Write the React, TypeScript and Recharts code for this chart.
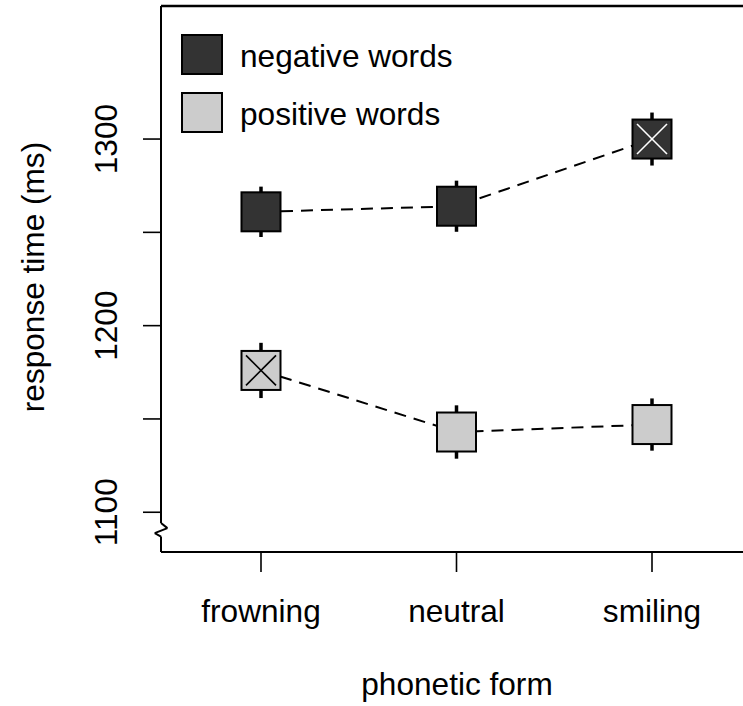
import React from 'react';
import { ComposedChart, Line, XAxis, YAxis, ErrorBar, ReferenceLine, Customized } from 'recharts';

// ---- data ----
const categories = ['frowning', 'neutral', 'smiling'];
const categoryPositions = [1, 2, 3];
const negativeMeans = [1261, 1264, 1300];
const negativeErrors = [13.5, 13.7, 14.2];
const positiveMeans = [1176, 1143, 1147];
const positiveErrors = [14.8, 14.3, 14.0];
const negativeCrossed = [false, false, true];
const positiveCrossed = [true, false, false];
const yTicks = [1100, 1150, 1200, 1250, 1300];
const yTickLabels = [1100, 1200, 1300];
const seriesNames = ['negative words', 'positive words'];
const xTitle = 'phonetic form';
const yTitle = 'response time (ms)';

const data = categories.map((c, i) => ({
  x: categoryPositions[i],
  category: c,
  neg: negativeMeans[i],
  negErr: negativeErrors[i],
  negX: negativeCrossed[i],
  pos: positiveMeans[i],
  posErr: positiveErrors[i],
  posX: positiveCrossed[i],
}));

const X_MIN = 0.4885;
const X_MAX = 3.5115;
const Y_MIN = 1078.7;
const Y_MAX = 1371.3;

const FONT = '"Liberation Sans", Arial, Helvetica, sans-serif';
const FS = 31.6;
const NEG_FILL = '#333333';
const POS_FILL = '#cccccc';

const makeDot = (fill: string, crossKey: string, crossColor: string) => (props: any) => {
  const { cx, cy, payload, index } = props;
  const h = 19.5;
  const c = 15;
  return (
    <g key={`dot-${crossKey}-${index}`}>
      <rect x={cx - h} y={cy - h} width={2 * h} height={2 * h} fill={fill} stroke="#000" strokeWidth={2} />
      {payload[crossKey] ? (
        <g stroke={crossColor} strokeWidth={1.6}>
          <line x1={cx - c} y1={cy - c} x2={cx + c} y2={cy + c} />
          <line x1={cx - c} y1={cy + c} x2={cx + c} y2={cy - c} />
        </g>
      ) : null}
    </g>
  );
};

const XTick = (props: any) => {
  const { x, y, payload } = props;
  const label = categories[categoryPositions.indexOf(payload.value)];
  return (
    <text x={x} y={y + 48} textAnchor="middle" fontFamily={FONT} fontSize={FS} fill="#000">
      {label}
    </text>
  );
};

const YTick = (props: any) => {
  const { x, y, payload } = props;
  if (!yTickLabels.includes(payload.value)) return <g />;
  const bx = x - 24;
  return (
    <text x={bx} y={y} transform={`rotate(-90, ${bx}, ${y})`} textAnchor="middle" fontFamily={FONT} fontSize={FS} fill="#000">
      {payload.value}
    </text>
  );
};

const Decorations = () => (
  <g fontFamily={FONT} fontSize={FS} fill="#000">
    <text x={457} y={695} textAnchor="middle">{xTitle}</text>
    <text x={44} y={277} transform="rotate(-90, 44, 277)" textAnchor="middle">{yTitle}</text>
    <rect x={182} y={35} width={40} height={39} fill={NEG_FILL} stroke="#000" strokeWidth={2} />
    <text x={240} y={67}>{seriesNames[0]}</text>
    <rect x={182} y={93} width={40} height={39} fill={POS_FILL} stroke="#000" strokeWidth={2} />
    <text x={240} y={125}>{seriesNames[1]}</text>
  </g>
);

// left axis with a zigzag break (axis units)
const dxR = 0.0328;
const dxL = -0.0321;
const leftAxisSegments = [
  [{ x: X_MIN, y: Y_MAX }, { x: X_MIN, y: 1094.2 }],
  [{ x: X_MIN, y: 1094.2 }, { x: X_MIN + dxR, y: 1091.5 }],
  [{ x: X_MIN + dxR, y: 1091.5 }, { x: X_MIN + dxL, y: 1088.8 }],
  [{ x: X_MIN + dxL, y: 1088.8 }, { x: X_MIN, y: 1087.0 }],
  [{ x: X_MIN, y: 1087.0 }, { x: X_MIN, y: Y_MIN }],
];

export default function App() {
  return (
    <div style={{ position: 'absolute', left: 0, top: 0, width: 743, height: 706, overflow: 'hidden', background: '#fff' }}>
      <ComposedChart width={760} height={706} data={data} margin={{ top: 6, right: 8, bottom: 0, left: 0 }}>
        <XAxis
          type="number"
          dataKey="x"
          domain={[X_MIN, X_MAX]}
          allowDataOverflow
          ticks={categoryPositions}
          tick={<XTick />}
          tickSize={20}
          tickLine={{ stroke: '#000', strokeWidth: 1.6 }}
          axisLine={{ stroke: '#000', strokeWidth: 2 }}
          height={154}
        />
        <YAxis
          type="number"
          domain={[Y_MIN, Y_MAX]}
          allowDataOverflow
          ticks={yTicks}
          tick={<YTick />}
          tickSize={18}
          tickLine={{ stroke: '#000', strokeWidth: 1.6 }}
          axisLine={false}
          width={161}
        />
        <ReferenceLine y={Y_MAX} stroke="#000" strokeWidth={2.4} ifOverflow="visible" />
        {leftAxisSegments.map((seg, i) => (
          <ReferenceLine key={`la-${i}`} segment={seg} stroke="#000" strokeWidth={2} ifOverflow="visible" />
        ))}
        <Line
          dataKey="neg"
          type="linear"
          stroke="#000"
          strokeWidth={2}
          strokeDasharray="12 8"
          dot={makeDot(NEG_FILL, 'negX', '#ffffff')}
          activeDot={false}
          isAnimationActive={false}
        >
          <ErrorBar dataKey="negErr" direction="y" width={0} stroke="#000" strokeWidth={3.5} />
        </Line>
        <Line
          dataKey="pos"
          type="linear"
          stroke="#000"
          strokeWidth={2}
          strokeDasharray="12 8"
          dot={makeDot(POS_FILL, 'posX', '#000000')}
          activeDot={false}
          isAnimationActive={false}
        >
          <ErrorBar dataKey="posErr" direction="y" width={0} stroke="#000" strokeWidth={3.5} />
        </Line>
        <Customized component={Decorations} />
      </ComposedChart>
    </div>
  );
}
